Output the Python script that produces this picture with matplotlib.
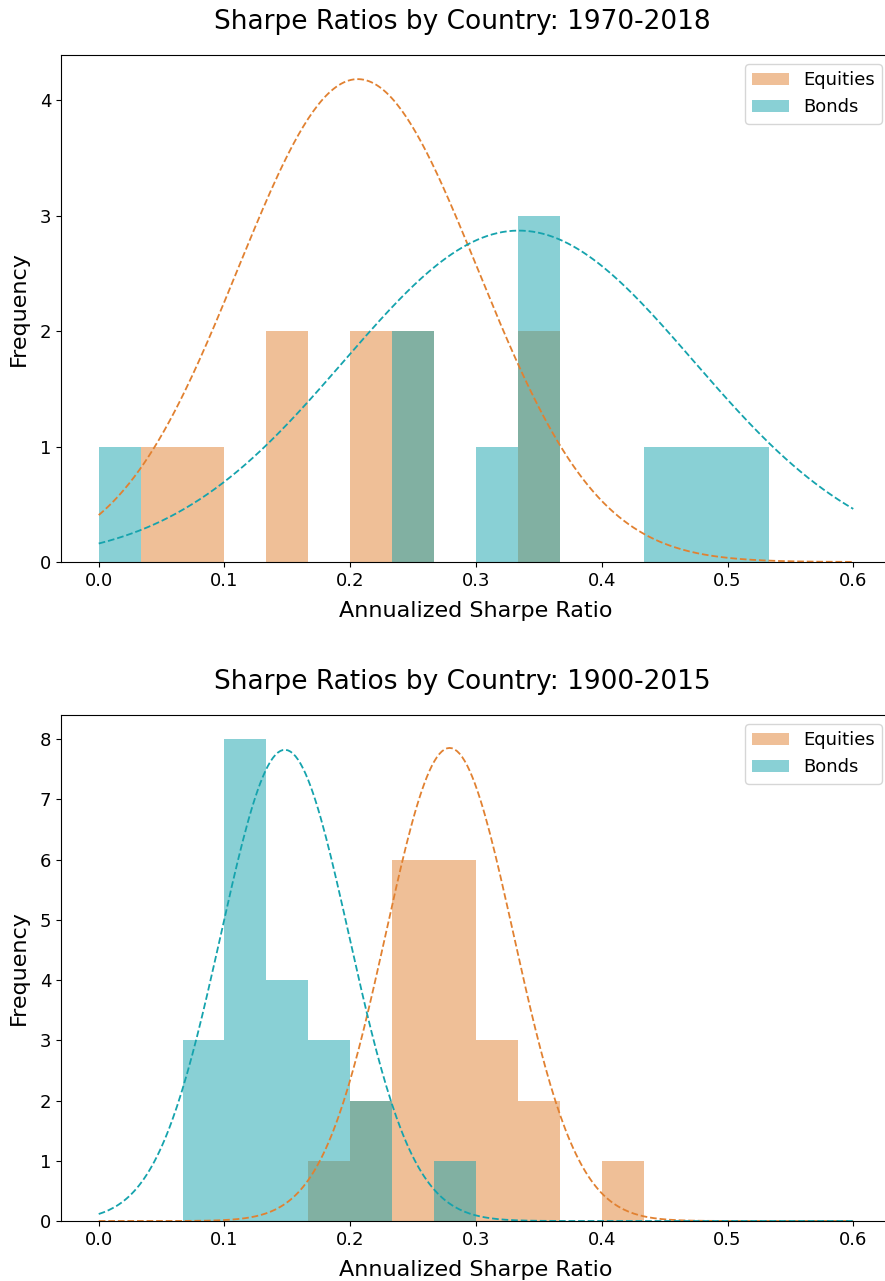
import numpy as np
import matplotlib
matplotlib.use("Agg")
import matplotlib.pyplot as plt

# histogram bins: 18 bins from 0 to 0.6
bins = np.linspace(0, 0.6, 19)
centers = (bins[:-1] + bins[1:]) / 2

# counts per bin
eq_1970 = [0, 1, 1, 0, 2, 0, 2, 2, 0, 0, 2, 0, 0, 0, 0, 0, 0, 0]
bd_1970 = [1, 0, 0, 0, 0, 0, 0, 2, 0, 1, 3, 0, 0, 1, 1, 1, 0, 0]
eq_1900 = [0, 0, 0, 0, 0, 1, 2, 6, 6, 3, 2, 0, 1, 0, 0, 0, 0, 0]
bd_1900 = [0, 0, 3, 8, 4, 3, 2, 0, 1, 0, 0, 0, 0, 0, 0, 0, 0, 0]

# fitted normal curves (mean, std)
eq_fit_1970 = (0.206, 0.0954)
bd_fit_1970 = (0.334, 0.139)
eq_fit_1900 = (0.279, 0.0508)
bd_fit_1900 = (0.148, 0.0510)

titles = ["Sharpe Ratios by Country: 1970-2018", "Sharpe Ratios by Country: 1900-2015"]

c_eq = "#e18131"
c_bd = "#15a3ad"


def normpdf(x, mu, sd):
    return np.exp(-(x - mu) ** 2 / (2 * sd ** 2)) / (sd * np.sqrt(2 * np.pi))


fig = plt.figure(figsize=(8.85, 12.81), dpi=100)
ax1 = fig.add_axes([61 / 885, 719 / 1281, 830 / 885, 507 / 1281])
ax2 = fig.add_axes([61 / 885, 60 / 1281, 830 / 885, 506 / 1281])

xs = np.linspace(0, 0.6, 300)
panels = [
    (ax1, eq_1970, bd_1970, eq_fit_1970, bd_fit_1970, titles[0]),
    (ax2, eq_1900, bd_1900, eq_fit_1900, bd_fit_1900, titles[1]),
]
for ax, eq, bd, efit, bfit, title in panels:
    ax.hist(centers, bins=bins, weights=eq, color=c_eq, alpha=0.5, label="Equities")
    ax.hist(centers, bins=bins, weights=bd, color=c_bd, alpha=0.5, label="Bonds")
    ax.plot(xs, normpdf(xs, *efit), "--", color=c_eq, lw=1.3)
    ax.plot(xs, normpdf(xs, *bfit), "--", color=c_bd, lw=1.3)
    ax.set_title(title, fontsize=19, pad=19, x=0.483)
    ax.set_xlabel("Annualized Sharpe Ratio", fontsize=16, labelpad=8)
    ax.set_ylabel("Frequency", fontsize=16, labelpad=8)
    ax.set_xlim(-0.03, 0.63)
    ax.tick_params(labelsize=13)
    ax.legend(fontsize=13, loc="upper right")

ax1.set_yticks([0, 1, 2, 3, 4])
ax2.set_yticks([0, 1, 2, 3, 4, 5, 6, 7, 8])

plt.savefig("out.png")
plt.close()
